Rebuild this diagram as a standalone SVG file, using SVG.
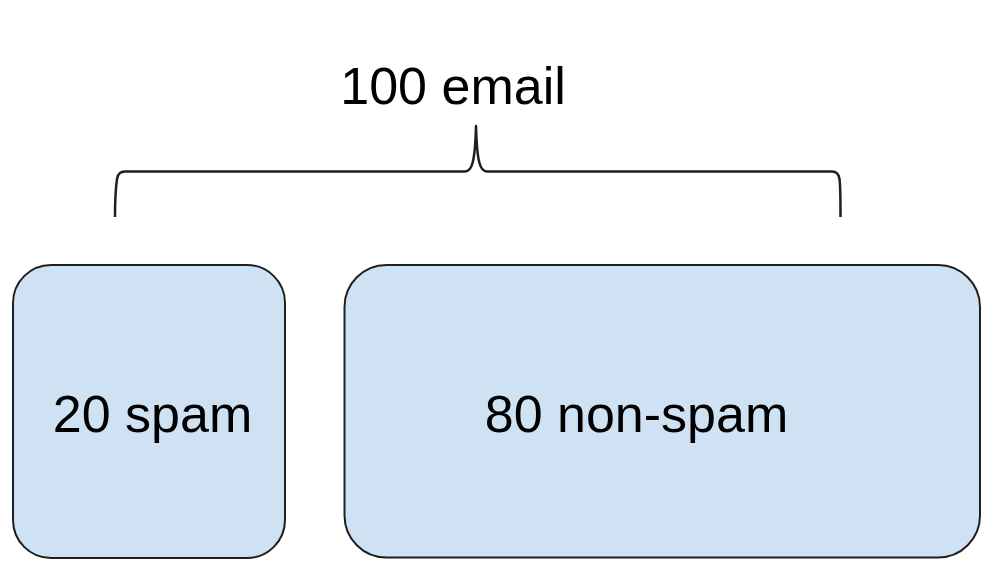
<svg xmlns="http://www.w3.org/2000/svg" width="994" height="580" viewBox="0 0 994 580">
  <style>
    .box { fill: #cfe2f3; stroke: #1f1f1f; stroke-width: 2; }
    .lbl { font-family: "Liberation Sans", Arial, sans-serif; font-size: 52px; fill: #000; text-anchor: middle; }
    .brace { fill: none; stroke: #1f1f1f; stroke-width: 2.5; stroke-linejoin: round; stroke-linecap: butt; }
  </style>
  <rect width="994" height="580" fill="#ffffff"/>
  <g id="title">
    <text class="lbl" x="453" y="104">100 email</text>
  </g>
  <g id="connectors">
    <path class="brace" d="M115,217 C115,200 116,186 117,179 Q118,171.5 125,171.5 L465,171.5 C472,171.5 475,162 476,126 C477,162 480,171.5 487,171.5 L832,171.5 Q838.5,171.5 839.5,179 C840.5,186 840.5,200 840.5,217"/>
  </g>
  <g id="spam">
    <rect class="box" x="13" y="265" width="272" height="293" rx="38" ry="38"/>
    <text class="lbl" x="152.5" y="432">20 spam</text>
  </g>
  <g id="nonspam">
    <rect class="box" x="344.5" y="265" width="635.5" height="292.5" rx="42" ry="42"/>
    <text class="lbl" x="636.5" y="432">80 non-spam</text>
  </g>
</svg>
